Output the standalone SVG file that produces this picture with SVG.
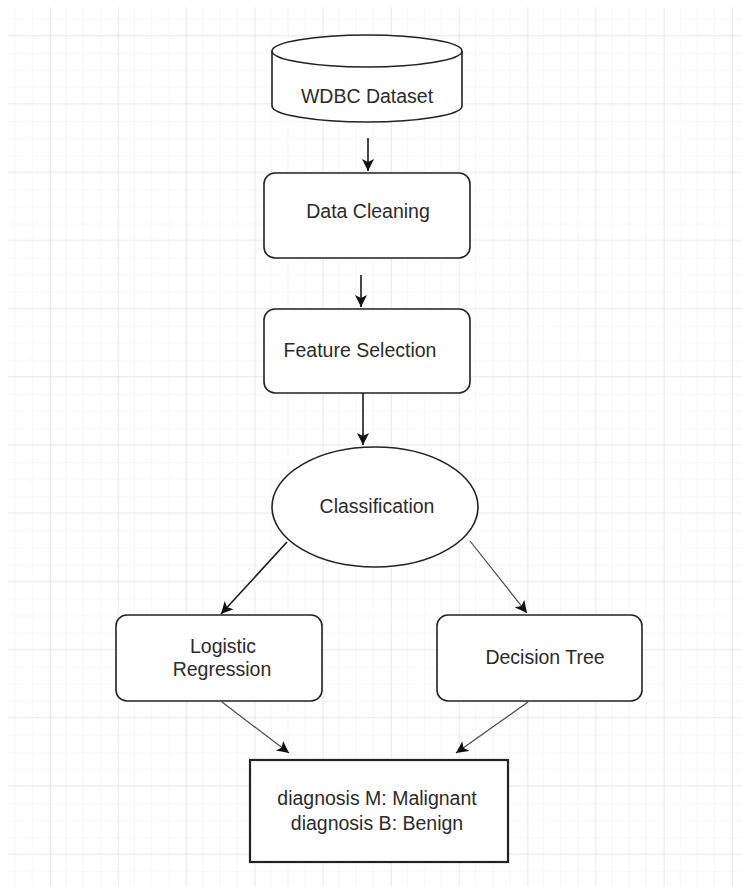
<svg xmlns="http://www.w3.org/2000/svg" width="742" height="886" viewBox="0 0 742 886">
  <style>
    .node { fill: #ffffff; stroke: #222222; stroke-width: 1.6; }
    .label { font-family: "Liberation Sans", Arial, sans-serif; font-size: 19.5px; fill: #2b2b2b; text-anchor: middle; }
    .conn { fill: none; stroke: #1a1a1a; stroke-width: 1.6; }
    .conn-light { fill: none; stroke: #4a4a4a; stroke-width: 1.2; }
  </style>
  <defs>
    <pattern id="minor" x="50" y="35" width="17.05" height="17.05" patternUnits="userSpaceOnUse">
      <path d="M0,0 H17.05 M0,0 V17.05" fill="none" stroke="#f0f0f0" stroke-width="1"/>
    </pattern>
    <pattern id="major" x="50" y="35" width="68.2" height="68.2" patternUnits="userSpaceOnUse">
      <rect width="68.2" height="68.2" fill="url(#minor)"/>
      <path d="M0,0 H68.2 M0,0 V68.2" fill="none" stroke="#dedede" stroke-width="1"/>
    </pattern>
    <marker id="arrow" markerWidth="13" markerHeight="13" refX="12" refY="6.5" orient="auto" markerUnits="userSpaceOnUse">
      <path d="M0,0.5 L12,6.5 L0,12.5 L3,6.5 Z" fill="#111111"/>
    </marker>
  </defs>

  <rect width="742" height="886" fill="#ffffff"/>
  <rect x="8" y="7" width="734" height="879" fill="url(#major)"/>

  <g id="connectors">
    <line class="conn" x1="368" y1="138" x2="368" y2="171" marker-end="url(#arrow)"/>
    <line class="conn" x1="361" y1="275" x2="361" y2="307" marker-end="url(#arrow)"/>
    <line class="conn" x1="363" y1="393" x2="363" y2="445" marker-end="url(#arrow)"/>
    <line class="conn" x1="287" y1="542" x2="221" y2="614" marker-end="url(#arrow)"/>
    <line class="conn-light" x1="470" y1="541" x2="527" y2="613" marker-end="url(#arrow)"/>
    <line class="conn-light" x1="222" y1="702" x2="289" y2="753" marker-end="url(#arrow)"/>
    <line class="conn-light" x1="528" y1="702" x2="456" y2="753" marker-end="url(#arrow)"/>
  </g>

  <g id="wdbc-dataset">
    <path class="node" d="M272,51 L272,106 A95,16 0 0 0 462,106 L462,51"/>
    <ellipse class="node" cx="367" cy="51" rx="95" ry="16"/>
    <text class="label" x="367" y="103">WDBC Dataset</text>
  </g>

  <g id="data-cleaning">
    <rect class="node" x="264" y="173" width="206" height="85" rx="11"/>
    <text class="label" x="368" y="218">Data Cleaning</text>
  </g>

  <g id="feature-selection">
    <rect class="node" x="264" y="309" width="206" height="84" rx="11"/>
    <text class="label" x="360" y="357">Feature Selection</text>
  </g>

  <g id="classification">
    <ellipse class="node" cx="375" cy="507" rx="103" ry="60"/>
    <text class="label" x="377" y="513">Classification</text>
  </g>

  <g id="logistic-regression">
    <rect class="node" x="116" y="615" width="206" height="86" rx="11"/>
    <text class="label" x="223" y="653">Logistic</text>
    <text class="label" x="222" y="676">Regression</text>
  </g>

  <g id="decision-tree">
    <rect class="node" x="437" y="615" width="205" height="86" rx="11"/>
    <text class="label" x="545" y="664">Decision Tree</text>
  </g>

  <g id="diagnosis">
    <rect class="node" x="250" y="760" width="258" height="102" style="stroke-width:2.2"/>
    <text class="label" x="377" y="805">diagnosis M: Malignant</text>
    <text class="label" x="377" y="830">diagnosis B: Benign</text>
  </g>
</svg>
